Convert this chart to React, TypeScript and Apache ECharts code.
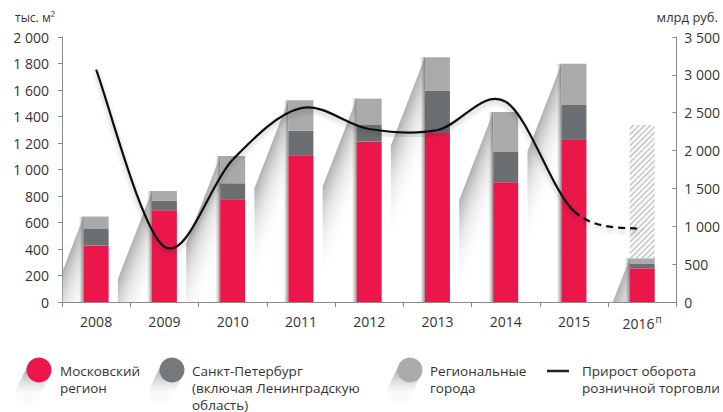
import React, { useEffect, useRef } from 'react';
import * as echarts from 'echarts';

const years = ['2008', '2009', '2010', '2011', '2012', '2013', '2014', '2015', '2016'];
const yearLabels = ['2008', '2009', '2010', '2011', '2012', '2013', '2014', '2015', '2016{sup|п}'];
const moscow = [425, 692, 775, 1107, 1210, 1276, 904, 1223, 254];
const spb = [126, 73, 121, 186, 126, 317, 228, 264, 33];
const regional = [94, 73, 206, 230, 199, 254, 302, 312, 43];
const forecastRest = [null, null, null, null, null, null, null, null, 1005];
// retail turnover growth (right axis); last value is the forecast (dashed)
const retail = [3070, 730, 1880, 2560, 2285, 2270, 2645, 1200, 960];
const forecastFrom = 7;
const leftMax = 2000;
const leftStep = 200;
const rightMax = 3500;
const rightStep = 500;

const legendNames = [
  'Московский\nрегион',
  'Санкт-Петербург\n(включая Ленинградскую\nобласть)',
  'Региональные\nгорода',
  'Прирост оборота\nрозничной торговли',
];

const RED = '#EB174B';
const DARK = '#6C6F72';
const LIGHT = '#AAAAAA';
const FONT = '"Open Sans", "Noto Sans", sans-serif';
const TEXT = '#333333';

const fmt = (v: number) =>
  v >= 1000 ? `${Math.floor(v / 1000)} ${String(v % 1000).padStart(3, '0')}` : String(v);

function legendIcon(cx: number, cy: number, color: string) {
  return [
    {
      type: 'line',
      shape: { x1: cx, y1: cy, x2: cx - 11, y2: cy + 22 },
      style: {
        stroke: new echarts.graphic.LinearGradient(0, 0, 0, 1, [
          { offset: 0, color: 'rgba(160,160,160,0.85)' },
          { offset: 1, color: 'rgba(245,245,245,0.5)' },
        ]),
        lineWidth: 24,
        lineCap: 'round',
      },
      silent: true,
    },
    {
      type: 'circle',
      shape: { cx, cy, r: 12.5 },
      style: { fill: color },
      silent: true,
    },
  ];
}

export default function App() {
  const ref = useRef<HTMLDivElement>(null);
  useEffect(() => {
    if (!ref.current) return;
    const chart = echarts.init(ref.current, null, { renderer: 'svg' });
    const totals = moscow.map((m, i) => m + spb[i] + regional[i]);

    const graphic: any[] = [
      {
        type: 'text',
        left: 15,
        top: 11,
        style: { text: 'тыс. м²', font: `12px ${FONT}`, fill: TEXT },
      },
      {
        type: 'text',
        right: 5,
        top: 10,
        style: { text: 'млрд руб.', font: `13px ${FONT}`, fill: TEXT },
      },
      ...legendIcon(39, 370, RED),
      ...legendIcon(172, 370, '#76797C'),
      ...legendIcon(410, 370, LIGHT),
      {
        type: 'line',
        shape: { x1: 547, y1: 371, x2: 569, y2: 371 },
        style: { stroke: '#222', lineWidth: 2.5 },
      },
    ];
    const textX = [60, 192, 430, 582];
    legendNames.forEach((t, i) => {
      graphic.push({
        type: 'text',
        x: textX[i],
        y: 362,
        style: { text: t, font: `13.5px ${FONT}`, fill: TEXT, lineHeight: 17, verticalAlign: 'top' },
      });
    });

    chart.setOption({
      animation: false,
      textStyle: { fontFamily: FONT },
      grid: { left: 62, right: 44, top: 37, bottom: 110 },
      xAxis: {
        type: 'category',
        data: years,
        axisLine: { lineStyle: { color: '#8a8a8a' } },
        axisTick: { show: true, length: 5, lineStyle: { color: '#8a8a8a' } },
        axisLabel: {
          color: TEXT,
          fontSize: 14,
          margin: 12,
          interval: 0,
          formatter: (_v: string, i: number) => yearLabels[i],
          rich: { sup: { fontSize: 10, padding: [0, 0, 9, 1], color: TEXT } },
        },
      },
      yAxis: [
        {
          type: 'value',
          min: 0,
          max: leftMax,
          interval: leftStep,
          splitLine: { show: false },
          axisLine: { show: true, lineStyle: { color: '#8a8a8a' } },
          axisTick: { show: true, length: 4, lineStyle: { color: '#8a8a8a' } },
          axisLabel: { color: TEXT, fontSize: 14, margin: 13, formatter: fmt },
        },
        {
          type: 'value',
          min: 0,
          max: rightMax,
          interval: rightStep,
          position: 'right',
          splitLine: { show: false },
          axisLine: { show: true, lineStyle: { color: '#8a8a8a' } },
          axisTick: { show: true, inside: true, length: 4, lineStyle: { color: '#8a8a8a' } },
          axisLabel: { color: TEXT, fontSize: 14, margin: 8, formatter: fmt },
        },
      ],
      graphic,
      series: [
        {
          type: 'custom',
          name: 'shadow',
          xAxisIndex: 0,
          yAxisIndex: 0,
          data: totals.map((t, i) => [i, t]),
          clip: true,
          silent: true,
          z: 1,
          renderItem: (_p: any, api: any) => {
            const i = api.value(0);
            const top = api.coord([i, api.value(1)]);
            const base = api.coord([i, 0]);
            const L = top[0] - 12.5;
            const dx = 34;
            const dy = 88;
            const mx = L - dx / 2;
            const my = top[1] + dy / 2;
            const n = Math.hypot(dx, dy);
            const ux = dy / n;
            const uy = dx / n;
            const spread = 34;
            return {
              type: 'group',
              children: [
                {
                  type: 'polygon',
                  shape: {
                    points: [
                      [L, top[1]],
                      [L - dx, top[1] + dy],
                      [L - dx, base[1]],
                      [L, base[1]],
                    ],
                  },
                  style: {
                    fill: new echarts.graphic.LinearGradient(
                      mx,
                      my,
                      mx + ux * spread,
                      my + uy * spread,
                      [
                        { offset: 0, color: 'rgba(150,150,150,0.75)' },
                        { offset: 0.45, color: 'rgba(205,205,205,0.45)' },
                        { offset: 1, color: 'rgba(250,250,250,0.1)' },
                      ],
                      true
                    ),
                  },
                },
                {
                  type: 'rect',
                  shape: { x: L - 5, y: top[1], width: 5, height: base[1] - top[1] },
                  style: {
                    fill: new echarts.graphic.LinearGradient(0, 0, 1, 0, [
                      { offset: 0, color: 'rgba(190,190,190,0)' },
                      { offset: 1, color: 'rgba(105,105,105,0.8)' },
                    ]),
                  },
                },
              ],
            };
          },
        },
        {
          type: 'bar',
          name: 'Московский регион',
          stack: 'a',
          barWidth: 25,
          data: moscow,
          itemStyle: { color: RED },
          z: 2,
        },
        {
          type: 'bar',
          name: 'Санкт-Петербург',
          stack: 'a',
          barWidth: 25,
          data: spb,
          itemStyle: { color: DARK },
          z: 2,
        },
        {
          type: 'bar',
          name: 'Региональные города',
          stack: 'a',
          barWidth: 25,
          data: regional,
          itemStyle: { color: LIGHT },
          z: 2,
        },
        {
          type: 'bar',
          name: 'Прогноз',
          stack: 'a',
          barWidth: 25,
          data: forecastRest,
          itemStyle: {
            color: '#f7f7f7',
            decal: {
              symbol: 'rect',
              symbolSize: 1,
              dashArrayX: [1, 0],
              dashArrayY: [1, 2.5],
              rotation: -Math.PI / 4,
              color: 'rgba(175,175,175,0.9)',
            },
          },
          z: 2,
        },
        {
          type: 'custom',
          name: 'Прирост оборота розничной торговли',
          xAxisIndex: 0,
          yAxisIndex: 1,
          data: retail.map((v, i) => [i, v]),
          clip: false,
          silent: true,
          z: 5,
          renderItem: (_p: any, api: any) => {
            const i = api.value(0);
            const n = retail.length;
            if (i >= n - 1) return { type: 'group', children: [] };
            const P = (k: number) => {
              const j = Math.max(0, Math.min(n - 1, k));
              return api.coord([j, retail[j]]);
            };
            const p0 = P(i - 1);
            const p1 = P(i);
            const p2 = P(i + 1);
            const p3 = P(i + 2);
            const dashed = i >= forecastFrom;
            return {
              type: 'bezierCurve',
              shape: {
                x1: p1[0],
                y1: p1[1],
                x2: p2[0],
                y2: p2[1],
                cpx1: p1[0] + (p2[0] - p0[0]) / 6,
                cpy1: p1[1] + (p2[1] - p0[1]) / 6,
                cpx2: p2[0] - (p3[0] - p1[0]) / 6,
                cpy2: p2[1] - (p3[1] - p1[1]) / 6,
              },
              style: {
                stroke: '#111',
                fill: null,
                lineWidth: 2.2,
                lineDash: dashed ? [7, 5] : null,
                shadowColor: 'rgba(0,0,0,0.28)',
                shadowBlur: 5,
                shadowOffsetY: 3,
              },
            };
          },
        },
      ],
    });
    return () => chart.dispose();
  }, []);
  return (
    <div
      ref={ref}
      style={{ position: 'fixed', left: 0, top: 0, width: 723, height: 412, background: '#fff' }}
    />
  );
}
